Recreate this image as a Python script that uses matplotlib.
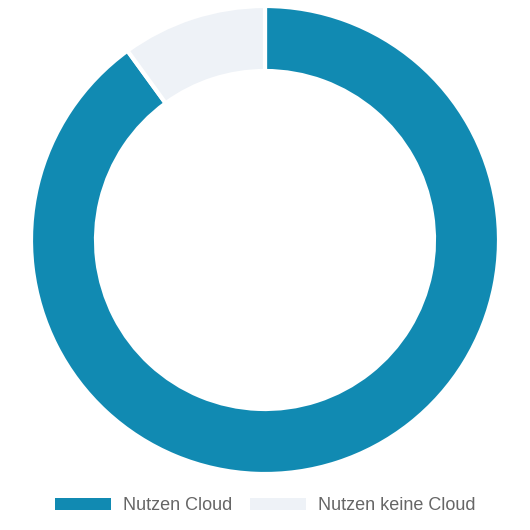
import matplotlib
matplotlib.use('Agg')
import matplotlib.pyplot as plt
from matplotlib.patches import Patch

labels = ['Nutzen Cloud', 'Nutzen keine Cloud']
values = [90, 10]
colors = ['#118AB2', '#EEF2F7']

plt.rcParams['font.family'] = ['Liberation Sans', 'DejaVu Sans']

fig = plt.figure(figsize=(5.3, 5.3), dpi=100)
W = 530
cx, cy, r = 265, 240, 234
ax = fig.add_axes([(cx - r) / W, (W - cy - r) / W, 2 * r / W, 2 * r / W])
ax.pie(values, colors=colors, startangle=90, counterclock=False, radius=1,
       wedgeprops=dict(width=65 / r, edgecolor='white', linewidth=3))
ax.set_xlim(-1, 1)
ax.set_ylim(-1, 1)
ax.set_aspect('equal')
ax.axis('off')

handles = [Patch(facecolor=c, edgecolor='none') for c in colors]
leg = fig.legend(handles, labels, loc='center', bbox_to_anchor=(0.5, 1 - 506 / W),
                 ncol=2, frameon=False, fontsize=13, handlelength=3.1,
                 handleheight=0.67, handletextpad=0.67, columnspacing=1.0)
for t in leg.get_texts():
    t.set_color('#666666')

fig.savefig('out.png', dpi=100, facecolor='white')
